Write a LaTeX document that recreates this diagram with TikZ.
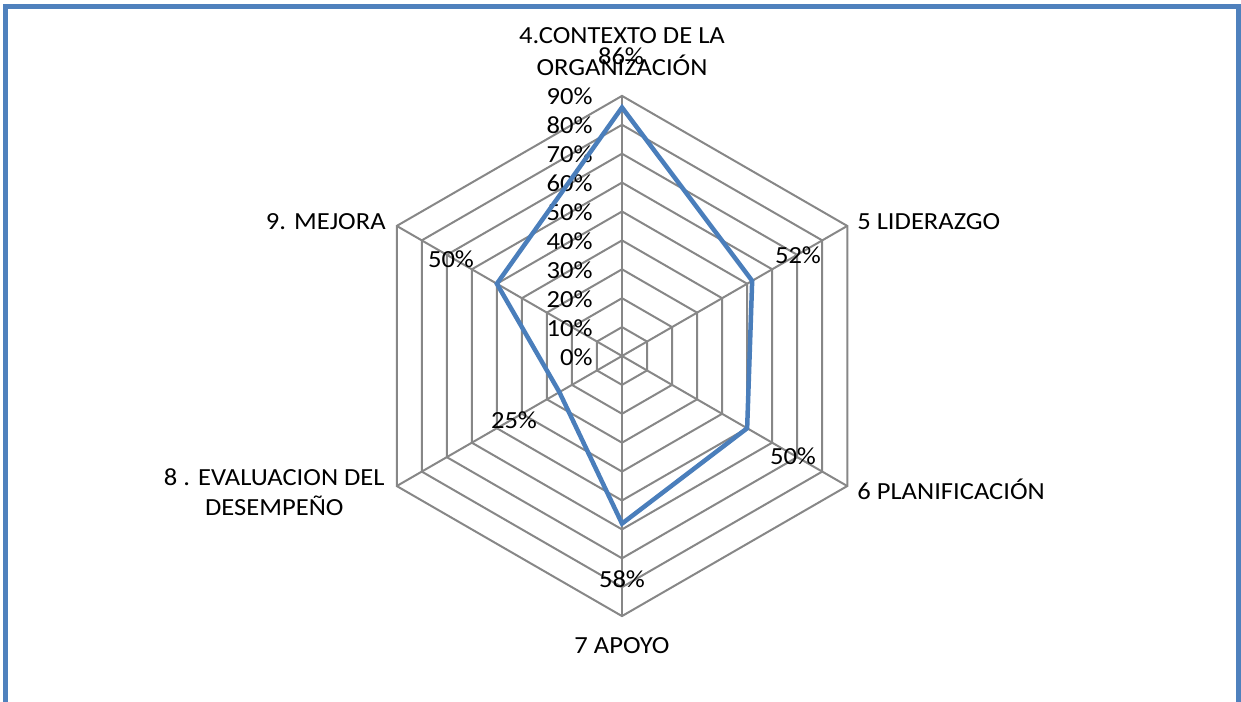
\documentclass[tikz,border=0pt]{standalone}
\usepackage{fontspec}
\setmainfont{Carlito}[FakeStretch=1.08]
\usetikzlibrary{calc}
\definecolor{frameblue}{HTML}{4F81BD}
\definecolor{gridgray}{HTML}{878787}
\definecolor{serieblue}{HTML}{4A7EBB}
\def\hexring(#1)(#2){\draw[gridline] ($(#1)+(90:#2)$) -- ($(#1)+(30:#2)$) -- ($(#1)+(-30:#2)$) -- ($(#1)+(-90:#2)$) -- ($(#1)+(-150:#2)$) -- ($(#1)+(150:#2)$) -- cycle;}
\tikzset{
	gridline/.style={line width=0.4mm, color=gridgray},
	serieline/.style={line width=0.9mm, color=serieblue},
	chartlabel/.style={inner sep=0pt, font=\fontsize{14}{18}\selectfont},
}

\begin{document}
\begin{tikzpicture}[x=0.02cm, y=0.02cm]
			%%%%% START %%%%%
			
			\useasboundingbox (0, 0) rectangle (1241, 702);
			\draw[line width=1mm, color=frameblue] (5.7, -10) -- (5.7, 695.5) -- (1238.5, 695.5) -- (1238.5, -10);
			
			\coordinate (O) at (622, 346);
			
			\hexring(O)(28.9)
			\hexring(O)(57.8)
			\hexring(O)(86.7)
			\hexring(O)(115.6)
			\hexring(O)(144.5)
			\hexring(O)(173.4)
			\hexring(O)(202.3)
			\hexring(O)(231.2)
			\hexring(O)(260.1)
			
			\draw[gridline] (O) -- ($(O)+(90:260.1)$);
			\draw[gridline] (O) -- ($(O)+(30:260.1)$);
			\draw[gridline] (O) -- ($(O)+(-30:260.1)$);
			\draw[gridline] (O) -- ($(O)+(-90:260.1)$);
			\draw[gridline] (O) -- ($(O)+(-150:260.1)$);
			\draw[gridline] (O) -- ($(O)+(150:260.1)$);
			
			\node[chartlabel, anchor=base east] (pct0) at (593, 336) {0\%};
			\node[chartlabel, anchor=base east] (pct10) at (593, 365) {10\%};
			\node[chartlabel, anchor=base east] (pct20) at (593, 394) {20\%};
			\node[chartlabel, anchor=base east] (pct30) at (593, 423) {30\%};
			\node[chartlabel, anchor=base east] (pct40) at (593, 452) {40\%};
			\node[chartlabel, anchor=base east] (pct50) at (593, 481) {50\%};
			\node[chartlabel, anchor=base east] (pct60) at (593, 510) {60\%};
			\node[chartlabel, anchor=base east] (pct70) at (593, 539) {70\%};
			\node[chartlabel, anchor=base east] (pct80) at (593, 568) {80\%};
			\node[chartlabel, anchor=base east] (pct90) at (593, 597) {90\%};
			
			\coordinate (contexto) at ($(O)+(90:248.5)$);
			\coordinate (liderazgo) at ($(O)+(30:150.3)$);
			\coordinate (planificacion) at ($(O)+(-30:144.5)$);
			\coordinate (apoyo) at ($(O)+(-90:167.6)$);
			\coordinate (evaluacion) at ($(O)+(-150:72.3)$);
			\coordinate (mejora) at ($(O)+(150:144.5)$);
			\draw[serieline] (contexto) -- (liderazgo) -- (planificacion) -- (apoyo) -- (evaluacion) -- (mejora) -- cycle;
			
			\node[chartlabel, anchor=base] (valcontexto) at (621, 637) {86\%};
			\node[chartlabel, anchor=base] (valliderazgo) at (798, 438) {52\%};
			\node[chartlabel, anchor=base] (valplanificacion) at (793, 237) {50\%};
			\node[chartlabel, anchor=base] (valapoyo) at (622, 114) {58\%};
			\node[chartlabel, anchor=base] (valevaluacion) at (514, 273) {25\%};
			\node[chartlabel, anchor=base] (valmejora) at (451, 434) {50\%};
			
			\node[chartlabel, align=center] (catcontexto) at (622, 650.5) {4.CONTEXTO DE LA\\ORGANIZACIÓN};
			\node[chartlabel, anchor=base west] (catliderazgo) at (857, 472) {5 LIDERAZGO};
			\node[chartlabel, anchor=base west] (catplanificacion) at (857, 202) {6 PLANIFICACIÓN};
			\node[chartlabel, anchor=base] (catapoyo) at (622, 48) {7 APOYO};
			\node[chartlabel, align=center, anchor=east, font=\fontsize{14}{17}\selectfont] (catevaluacion) at (385, 209.5) {8 . EVALUACION DEL\\DESEMPEÑO};
			\node[chartlabel, anchor=base east] (catmejora) at (386, 472) {9. MEJORA};
			
			%%%%% END %%%%%
		\end{tikzpicture}
\end{document}
